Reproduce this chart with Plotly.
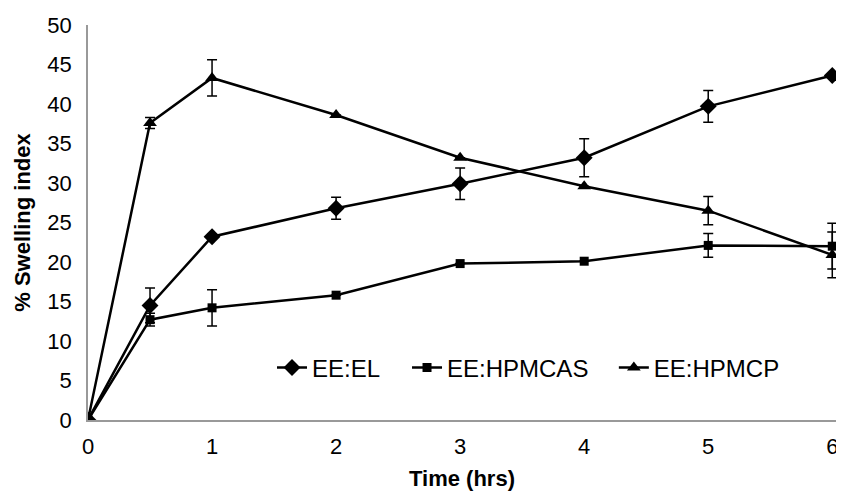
import plotly.graph_objects as go

time = [0, 0.5, 1, 2, 3, 4, 5, 6]

el = [0, 14.5, 23.2, 26.8, 29.9, 33.2, 39.7, 43.6]
el_err = [0, 2.2, 0.3, 1.4, 2.0, 2.4, 2.0, 0]

hpmcas = [0, 12.7, 14.2, 15.8, 19.8, 20.1, 22.1, 22.0]
hpmcas_err = [0, 0.8, 2.3, 0, 0, 0, 1.5, 2.9]

hpmcp = [0, 37.6, 43.3, 38.6, 33.2, 29.6, 26.5, 20.9]
hpmcp_err = [0, 0.7, 2.3, 0, 0, 0, 1.8, 2.9]

y_ticks = [0, 5, 10, 15, 20, 25, 30, 35, 40, 45, 50]
x_ticks = [0, 1, 2, 3, 4, 5, 6]

FONT = "Liberation Sans, Arial, sans-serif"

fig = go.Figure()

def add(name, y, err, symbol, size, legend):
    fig.add_trace(go.Scatter(
        x=time, y=y, name=name, mode="lines+markers", legend=legend,
        line=dict(color="black", width=2.5),
        marker=dict(symbol=symbol, size=size, color="black"),
        error_y=dict(type="data", array=err, visible=True,
                     color="black", thickness=1.5, width=5),
    ))

add("EE:EL", el, el_err, "diamond", 13, "legend")
add("EE:HPMCAS", hpmcas, hpmcas_err, "square", 9, "legend2")
add("EE:HPMCP", hpmcp, hpmcp_err, "triangle-up", 12, "legend3")

def leg(x):
    return dict(orientation="h", x=x, y=0.132, xanchor="left", yanchor="middle",
                font=dict(size=24), bgcolor="rgba(0,0,0,0)", itemwidth=30)

# page body has an 8px margin, so the figure is sized/offset to compensate
fig.update_layout(
    width=836, height=483,
    margin=dict(l=80, r=8, t=17, b=71),
    paper_bgcolor="white", plot_bgcolor="white",
    font=dict(family=FONT, color="black", size=22),
    showlegend=True,
    legend=leg(0.246),
    legend2=leg(0.4265),
    legend3=leg(0.703),
)
fig.update_xaxes(
    range=[0, 6.03], tickvals=x_ticks, showgrid=False, zeroline=False,
    showline=True, linecolor="#999999", linewidth=1.5, automargin=False,
    ticks="outside", ticklen=6, tickcolor="rgba(0,0,0,0)",
    tickfont=dict(size=22),
    title=dict(text="<b>Time (hrs)</b>", font=dict(size=22), standoff=15),
)
fig.update_yaxes(
    range=[0, 50], tickvals=y_ticks, showgrid=False, zeroline=False,
    showline=True, linecolor="#999999", linewidth=1.5, automargin=False,
    ticks="outside", ticklen=10, tickcolor="rgba(0,0,0,0)",
    tickfont=dict(size=22),
    title=dict(text="<b>% Swelling index</b>", font=dict(size=22), standoff=11),
)

fig.write_html("out.html")
